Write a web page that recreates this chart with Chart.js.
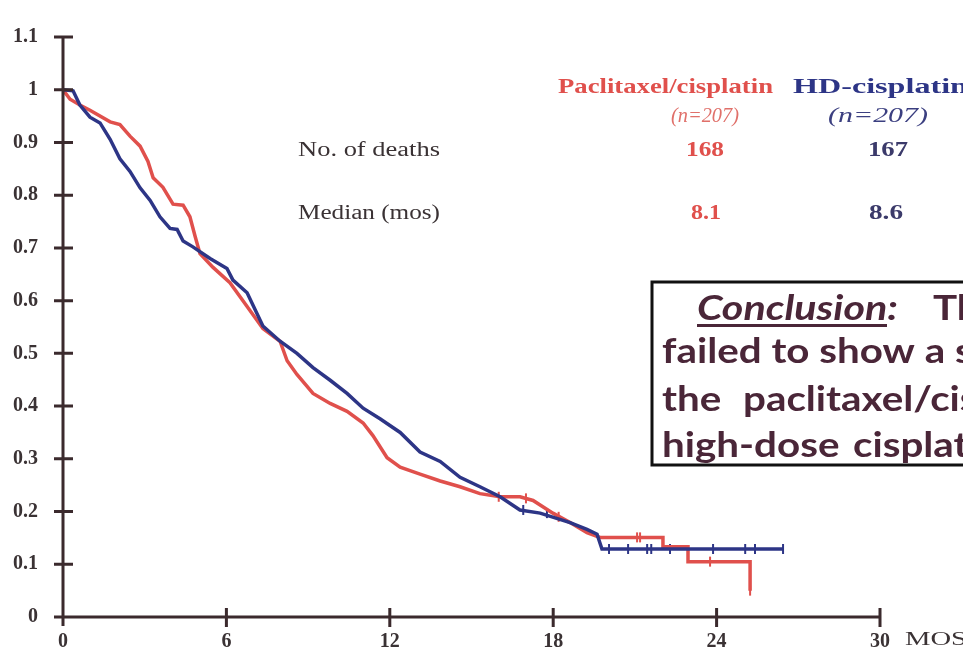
<!DOCTYPE html>
<html>
<head>
<meta charset="utf-8">
<script src="https://cdn.jsdelivr.net/npm/chart.js@4"></script>
<style>
  html, body { margin: 0; padding: 0; background: #fff; }
  canvas { display: block; }
</style>
</head>
<body>
<canvas id="kmChart" width="963" height="672"></canvas>
<script>
// survival curves (months, survival fraction)
const paclitaxelMonths = [0, 0.26, 0.62, 0.99, 1.73, 2.09, 2.46, 2.83, 3.12, 3.31, 3.67, 4.04, 4.41, 4.66, 4.85, 5.03, 5.51, 6.13, 6.76, 7.34, 7.97, 8.23, 8.59, 9.18, 9.81, 10.43, 11.02, 11.38, 11.9, 12.38, 13.11, 13.85, 14.58, 15.31, 16.05, 16.78, 17.26, 17.99, 18.62, 19.24, 19.72, 22.03, 22.03, 22.95, 22.95, 25.23, 25.23];
const paclitaxelSurv   = [1, 0.982, 0.971, 0.961, 0.939, 0.934, 0.912, 0.893, 0.864, 0.833, 0.815, 0.783, 0.781, 0.759, 0.722, 0.689, 0.663, 0.634, 0.589, 0.547, 0.523, 0.486, 0.46, 0.424, 0.405, 0.39, 0.368, 0.344, 0.302, 0.284, 0.271, 0.258, 0.247, 0.234, 0.228, 0.228, 0.221, 0.197, 0.179, 0.16, 0.151, 0.151, 0.133, 0.133, 0.105, 0.105, 0.05];

const hdMonths = [0, 0.37, 0.62, 0.99, 1.36, 1.73, 2.09, 2.46, 2.83, 3.2, 3.56, 3.93, 4.19, 4.41, 4.77, 5.4, 6.02, 6.24, 6.76, 7.34, 7.97, 8.59, 9.18, 9.81, 10.43, 11.02, 11.64, 12.38, 13.11, 13.85, 14.58, 15.31, 16.05, 16.78, 17.52, 18.62, 19.24, 19.61, 19.79, 26.44];
const hdSurv   = [1, 0.998, 0.971, 0.948, 0.937, 0.906, 0.869, 0.845, 0.814, 0.79, 0.759, 0.737, 0.735, 0.713, 0.702, 0.68, 0.661, 0.639, 0.615, 0.552, 0.523, 0.5, 0.473, 0.449, 0.424, 0.396, 0.376, 0.35, 0.313, 0.295, 0.265, 0.247, 0.228, 0.203, 0.197, 0.179, 0.166, 0.157, 0.129, 0.129];

// censored observations
const paclitaxelCensMonths = [16.0, 17.0, 18.2, 21.08, 21.19, 23.76, 25.23];
const paclitaxelCensSurv   = [0.228, 0.225, 0.19, 0.151, 0.151, 0.105, 0.05];
const hdCensMonths = [16.9, 17.77, 20.05, 20.75, 21.45, 21.6, 22.29, 23.87, 25.05, 25.41, 26.44];
const hdCensSurv   = [0.203, 0.197, 0.129, 0.129, 0.129, 0.129, 0.129, 0.129, 0.129, 0.129, 0.129];

const armNames = ['Paclitaxel/cisplatin', 'HD-cisplatin'];
const armN = ['(n=207)', '(n=207)'];
const rowLabels = ['No. of deaths', 'Median (mos)'];
const deaths = ['168', '167'];
const medians = ['8.1', '8.6'];
const conclusionLines = [
  ['Conclusion:', 'The study'],
  ['failed to show a significant'],
  ['the', 'paclitaxel/cisplatin'],
  ['high-dose', 'cisplatin arm']
];

const RED = '#e0504c';
const BLUE = '#2d3586';
const AXIS = '#3b2a2d';
const TXT = '#3a3234';

function pairs(xs, ys) {
  return xs.map((x, i) => ({ x: x, y: ys[i] }));
}

function txt(ctx, s, x, y, font, color, align, width) {
  ctx.save();
  ctx.font = font;
  ctx.fillStyle = color;
  ctx.textBaseline = 'alphabetic';
  const w = ctx.measureText(s).width;
  const k = width ? width / w : 1;
  let x0 = x;
  if (align === 'center') x0 = x - w * k / 2;
  if (align === 'right') x0 = x - w * k;
  ctx.translate(x0, y);
  ctx.scale(k, 1);
  ctx.fillText(s, 0, 0);
  ctx.restore();
}

const decorPlugin = {
  id: 'decor',
  afterDraw(chart) {
    const ctx = chart.ctx;
    const xs = chart.scales.x, ys = chart.scales.y;
    const x0 = xs.getPixelForValue(0), y0 = ys.getPixelForValue(0);
    const xEnd = xs.getPixelForValue(30), yTop = ys.getPixelForValue(1.1);

    // axes with crossing ticks
    ctx.save();
    ctx.strokeStyle = AXIS;
    ctx.lineWidth = 3;
    ctx.beginPath();
    ctx.moveTo(x0, yTop); ctx.lineTo(x0, y0 + 9);
    ctx.moveTo(x0 - 8, y0); ctx.lineTo(xEnd, y0);
    ys.ticks.forEach(t => {
      const py = ys.getPixelForValue(t.value);
      ctx.moveTo(x0 - 9, py); ctx.lineTo(x0 + 10, py);
    });
    xs.ticks.forEach(t => {
      if (t.value === 0) return;
      const px = xs.getPixelForValue(t.value);
      ctx.moveTo(px, y0 - 9); ctx.lineTo(px, y0 + 10);
    });
    ctx.stroke();
    ctx.restore();

    txt(ctx, 'MOS', 905, 645, '19px "Liberation Serif"', TXT, 'left', 62);

    // summary table
    const serifB = 'bold 22px "Liberation Serif"';
    txt(ctx, armNames[0], 558, 93, serifB, RED, 'left', 215);
    txt(ctx, armNames[1], 793, 93, serifB, BLUE, 'left', 175);
    txt(ctx, armN[0], 705, 122, 'italic 20px "Liberation Serif"', '#e0706a', 'center', 68);
    txt(ctx, armN[1], 878, 122, 'italic 20px "Liberation Serif"', '#3b3f80', 'center', 100);
    txt(ctx, rowLabels[0], 298, 156, '20px "Liberation Serif"', TXT, 'left', 142);
    txt(ctx, rowLabels[1], 298, 219, '20px "Liberation Serif"', TXT, 'left', 142);
    txt(ctx, deaths[0], 705, 156, 'bold 20px "Liberation Serif"', RED, 'center', 38);
    txt(ctx, deaths[1], 888, 156, 'bold 20px "Liberation Serif"', '#3b3a6a', 'center', 40);
    txt(ctx, medians[0], 706, 219, 'bold 20px "Liberation Serif"', RED, 'center', 30);
    txt(ctx, medians[1], 886, 219, 'bold 20px "Liberation Serif"', '#3b3a6a', 'center', 34);

    // conclusion box (clipped by the canvas edge)
    ctx.save();
    ctx.fillStyle = '#fff';
    ctx.fillRect(652, 282, 400, 183);
    ctx.strokeStyle = '#111';
    ctx.lineWidth = 3;
    ctx.strokeRect(652, 282, 400, 183);
    ctx.restore();

    const cFont = 'bold 35px Lato';
    const cCol = '#4a2638';
    ctx.save();
    ctx.font = cFont;
    const k = 293 / ctx.measureText('failed to show a ').width;
    ctx.restore();
    const kw = s => { ctx.save(); ctx.font = cFont; const w = ctx.measureText(s).width * k; ctx.restore(); return w; };
    txt(ctx, conclusionLines[0][0], 697, 320, 'italic bold 35px Lato', cCol, 'left', 201);
    txt(ctx, conclusionLines[0][1], 933, 320, cFont, cCol, 'left', kw(conclusionLines[0][1]));
    txt(ctx, conclusionLines[1][0], 662, 363, cFont, cCol, 'left', kw(conclusionLines[1][0]));
    txt(ctx, conclusionLines[2][0], 662, 411, cFont, cCol, 'left', kw(conclusionLines[2][0]));
    txt(ctx, conclusionLines[2][1], 743, 411, cFont, cCol, 'left', kw(conclusionLines[2][1]));
    txt(ctx, conclusionLines[3][0], 662, 457, cFont, cCol, 'left', kw(conclusionLines[3][0]));
    txt(ctx, conclusionLines[3][1], 853, 457, cFont, cCol, 'left', kw(conclusionLines[3][1]));
    ctx.save();
    ctx.fillStyle = cCol;
    ctx.fillRect(697, 324, 190, 3);
    ctx.restore();
  }
};

const ctx = document.getElementById('kmChart').getContext('2d');
new Chart(ctx, {
  type: 'line',
  data: {
    datasets: [
      {
        label: armNames[1],
        data: pairs(hdMonths, hdSurv),
        borderColor: BLUE,
        borderWidth: 3.5,
        pointRadius: 0,
        tension: 0
      },
      {
        label: armNames[0],
        data: pairs(paclitaxelMonths, paclitaxelSurv),
        borderColor: RED,
        borderWidth: 3.5,
        pointRadius: 0,
        tension: 0
      },
      {
        label: 'hd censored',
        data: pairs(hdCensMonths, hdCensSurv),
        showLine: false,
        borderColor: BLUE,
        pointStyle: 'line',
        rotation: 90,
        pointRadius: 5,
        pointBorderWidth: 2
      },
      {
        label: 'pac censored',
        data: pairs(paclitaxelCensMonths, paclitaxelCensSurv),
        showLine: false,
        borderColor: RED,
        pointStyle: 'line',
        rotation: 90,
        pointRadius: 5,
        pointBorderWidth: 2
      }
    ]
  },
  options: {
    responsive: false,
    devicePixelRatio: 1,
    animation: false,
    layout: { padding: { top: 20, right: 83, left: 0, bottom: 0 } },
    plugins: {
      legend: { display: false },
      tooltip: { enabled: false }
    },
    scales: {
      x: {
        type: 'linear',
        min: 0,
        max: 30,
        grid: { display: false, drawTicks: false },
        border: { display: false },
        ticks: {
          stepSize: 6,
          padding: 13,
          color: TXT,
          font: { family: 'Liberation Serif', weight: 'bold', size: 20 }
        },
        afterFit(s) { s.height = 55; }
      },
      y: {
        type: 'linear',
        min: 0,
        max: 1.1,
        grid: { display: false, drawTicks: false },
        border: { display: false },
        ticks: {
          stepSize: 0.1,
          padding: 25,
          color: TXT,
          font: { family: 'Liberation Serif', weight: 'bold', size: 20 },
          callback: v => String(Math.round(v * 10) / 10)
        },
        afterFit(s) { s.width = 63; }
      }
    }
  },
  plugins: [decorPlugin]
});
</script>
</body>
</html>
